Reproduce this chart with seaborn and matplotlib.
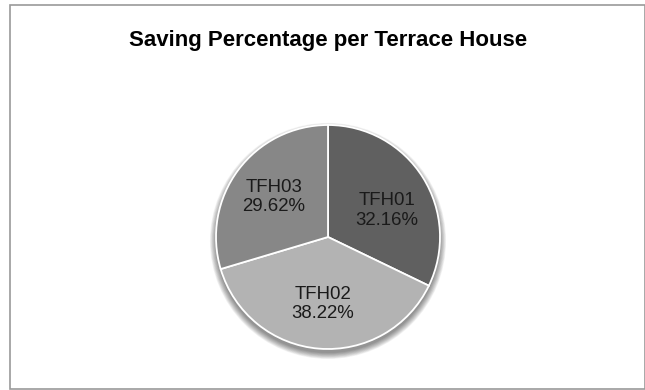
import matplotlib
matplotlib.use("Agg")
import matplotlib.pyplot as plt
from matplotlib.patches import Circle, Rectangle
import seaborn as sns

sns.set_theme(style="white")
plt.rcParams["font.family"] = ["Liberation Sans", "DejaVu Sans"]

# Saving share per terrace house
houses = ["TFH01", "TFH02", "TFH03"]
saving_pct = [32.16, 38.22, 29.62]
slice_colors = ["#606060", "#b3b3b3", "#878787"]

fig = plt.figure(figsize=(6.45, 3.9), dpi=100)
fig.patch.set_facecolor("white")

# chart-area frame
fig.add_artist(Rectangle((9.5 / 645, 1.0 / 390), 635 / 645, 384 / 390,
                         transform=fig.transFigure, fill=False,
                         edgecolor="#9a9a9a", linewidth=1.2))

fig.text(328 / 645, 1 - 46 / 390, "Saving Percentage per Terrace House",
         ha="center", va="baseline", fontsize=16, fontweight="bold",
         color="black")

r_px = 112
ax = fig.add_axes([(328 - r_px) / 645, (390 - 237 - r_px) / 390,
                   2 * r_px / 645, 2 * r_px / 390])

# soft drop shadow under the pie
for i in range(10):
    ax.add_patch(Circle((0, -0.035), 1.0 + 0.006 * i, facecolor="black",
                        alpha=0.05, edgecolor="none", zorder=0,
                        clip_on=False))

labels = [f"{h}\n{v:.2f}%" for h, v in zip(houses, saving_pct)]
wedges, texts = ax.pie(saving_pct, colors=slice_colors, startangle=90,
                       counterclock=False, labels=labels, labeldistance=0.6,
                       wedgeprops=dict(edgecolor="white", linewidth=1.3),
                       textprops=dict(fontsize=13.4, color="#1a1a1a",
                                      ha="center", va="center",
                                      linespacing=1.2))
for w in wedges:
    w.set_zorder(2)
for t in texts:
    t.set_zorder(3)

# nudge the first label a little lower inside its slice
x0, y0 = texts[0].get_position()
texts[0].set_position((x0 + 0.02, y0 - 0.08))

ax.set_xlim(-1.0, 1.0)
ax.set_ylim(-1.0, 1.0)
ax.set_aspect("equal")
ax.axis("off")

fig.savefig("out.png", dpi=100, facecolor="white")
